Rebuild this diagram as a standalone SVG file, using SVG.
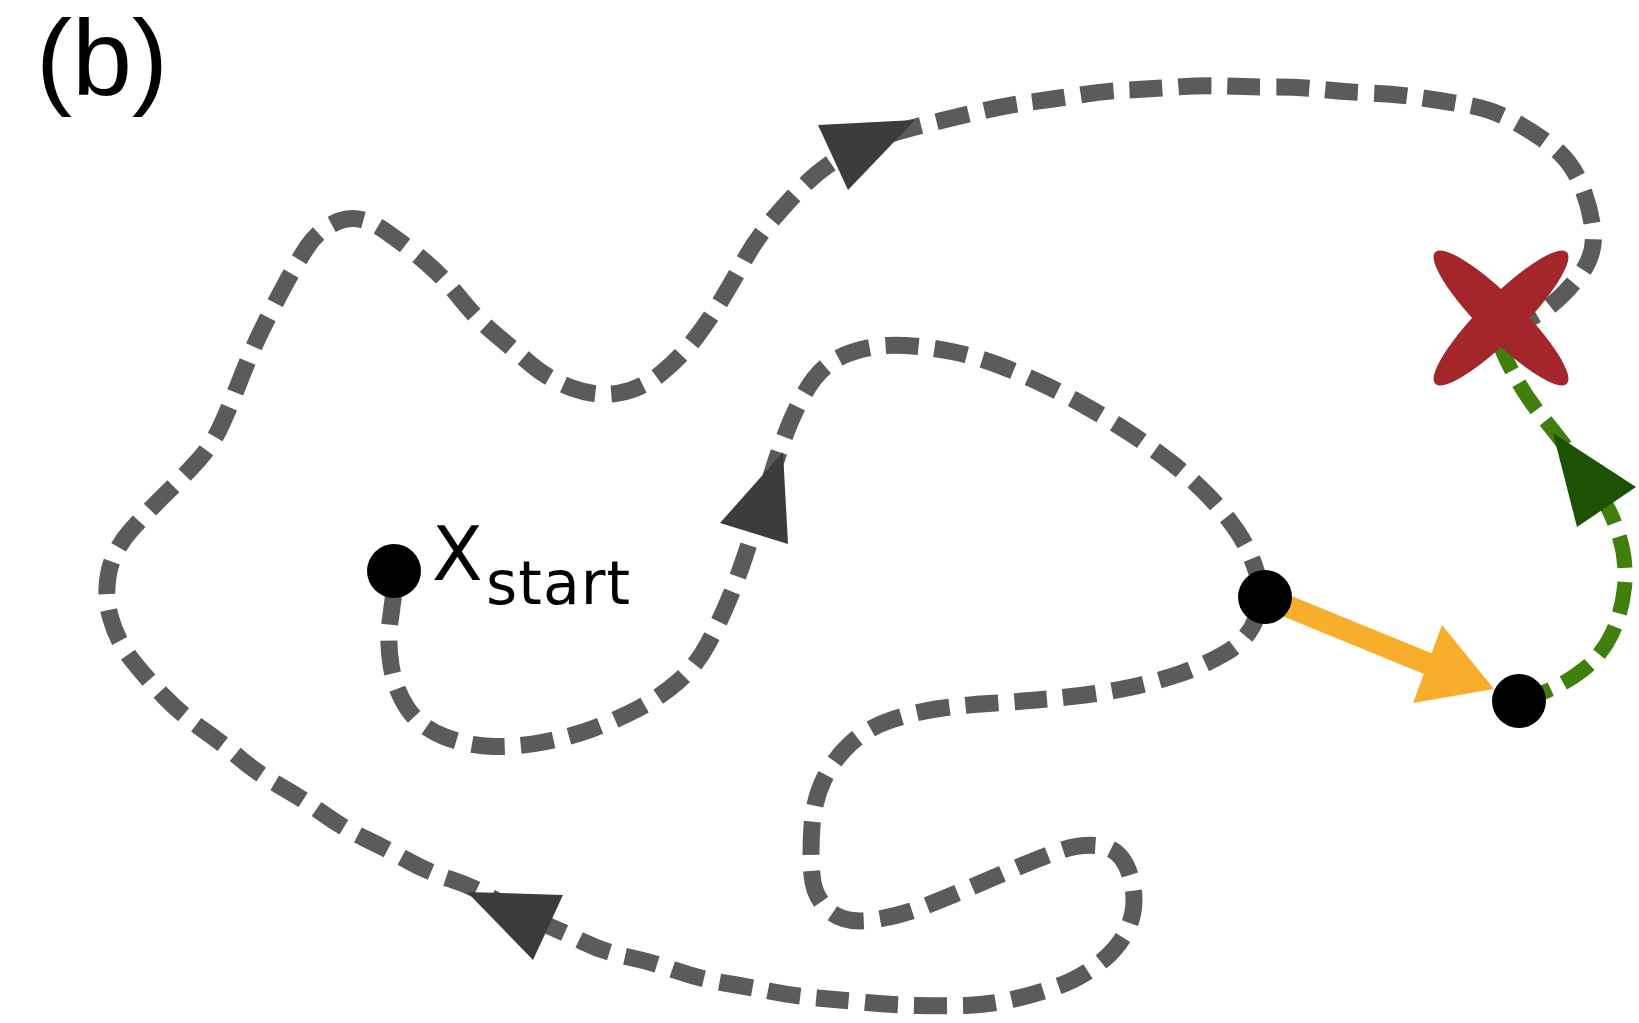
<svg xmlns="http://www.w3.org/2000/svg" width="1639" height="1023" viewBox="0 0 1639 1023">
  <style>
    .traj { fill: none; stroke: #5b5b5b; stroke-width: 17; stroke-dasharray: 33 16; stroke-linecap: butt; stroke-linejoin: round; }
    .green { fill: none; stroke: #407f0b; stroke-width: 15; stroke-dasharray: 32 14; stroke-linejoin: round; }
    .head { fill: #3c3c3c; }
    .ghead { fill: #1d5205; }
    .dot { fill: #000000; }
    .cross { fill: #a3272a; }
    .lbl { font-family: "DejaVu Sans", "Liberation Sans", sans-serif; fill: #000000; }
  </style>
  <rect x="0" y="0" width="1639" height="1023" fill="#ffffff"/>
  <text id="panel-label" x="36" y="95" font-family="Liberation Sans, Arial, sans-serif" font-size="108" fill="#000000">(b)</text>

  <g id="connectors">
    <path id="trajectory" class="traj" d="M 394 592 L 390.5 618.5 Q 387 640 391 665 T 407.5 708.5 T 444 736.5 T 493 746.5 T 544 742 T 592 729 T 636.5 709.5 T 677.5 682 T 707.5 644.5 T 728 601.5 T 744.5 557.5 T 759 513.5 T 773 470 T 787.5 429 T 805 392.5 T 827.5 365 T 861 349.5 T 906 345.5 T 954 352 T 1001 366 T 1045 385 T 1088 407.5 T 1130.5 433.5 T 1171 462.5 T 1207.5 495 T 1237 531 T 1257 573.5 T 1256 618.5 T 1225.5 653 T 1179 674 T 1132 687 T 1084.5 695 T 1036.5 700 T 988.5 703.5 T 939.5 708.5 T 891 720 T 850 744 T 823.5 780 T 812 826 T 812 875 T 829.5 911 T 872.5 920 T 923 907 T 968 888.5 T 1012.5 869.5 T 1057.5 851.5 T 1101 846 T 1130 875 T 1130 923 T 1101.5 961.5 T 1058.5 986 T 1012 999.5 T 965.5 1005.5 T 917.5 1005.5 T 866.5 1002.5 T 817.5 998 T 771.5 991.5 T 724.5 983 T 676 970.5 T 628 957 T 583.5 942 T 538.5 921.5 T 493 898.5 T 450 879 T 407.5 860.5 T 365 838.5 T 323 813.5 T 280 786 T 239.5 758 T 202 729 T 164.5 697 T 132 660 T 110.5 617.5 T 109 571.5 T 132 529 T 166.5 493 T 198 460.5 T 222.5 422.5 T 241.5 376.5 T 261.5 330.5 T 284 286.5 T 307.5 246.5 T 339 221 T 383 229.5 T 426 262.5 T 460 298 T 494 333 T 530.5 364 T 572 388 T 619 393 T 661.5 373 T 695.5 338 T 722 299 T 745 259 T 773 219 T 807 182.5 T 850 151.5 T 911.5 128 T 977.5 112 T 1031 102 T 1079.5 95 T 1128 90 T 1176.5 87 T 1225.5 86 T 1274 87 T 1322.5 89.5 T 1371 93 T 1419.5 97.5 T 1467 105 T 1512.5 120.5 T 1552.5 146.5 T 1580.5 183.5 T 1593 230 T 1580 275 T 1545 310 L 1510 330"/>
    <path id="escape" class="green" d="M 1521 701 L 1543 692.5 Q 1565 684 1583.5 669.5 T 1612 633.5 T 1624.5 587 T 1619.5 537 T 1598.5 492 T 1571 453.5 T 1542 416.5 T 1517 380 T 1502.5 351 L 1498 340"/>
    <polygon class="head" points="783,452 720,523 788,544"/>
    <polygon class="head" points="915,120 818,125 848,190"/>
    <polygon class="head" points="467,892 563,895 533,960"/>
    <polygon class="ghead" points="1553,433 1636,487 1577,527"/>
    <g id="jump">
      <line x1="1265" y1="597" x2="1436" y2="667" stroke="#f8ae2b" stroke-width="22"/>
      <polygon points="1442,625 1494,689 1413,703" fill="#f8ae2b"/>
    </g>
  </g>

  <g id="target">
    <ellipse class="cross" cx="1501" cy="318" rx="93" ry="21" transform="rotate(45 1501 318)"/>
    <ellipse class="cross" cx="1501" cy="318" rx="93" ry="21" transform="rotate(-45 1501 318)"/>
  </g>

  <g id="start-node">
    <circle class="dot" cx="394" cy="571" r="27"/>
    <text class="lbl" x="432" y="580" font-size="74">X<tspan x="486" y="604" font-size="60" textLength="144" lengthAdjust="spacing">start</tspan></text>
  </g>
  <g id="node-mid">
    <circle class="dot" cx="1265" cy="597" r="27"/>
  </g>
  <g id="node-end">
    <circle class="dot" cx="1519" cy="701" r="27"/>
  </g>
</svg>
